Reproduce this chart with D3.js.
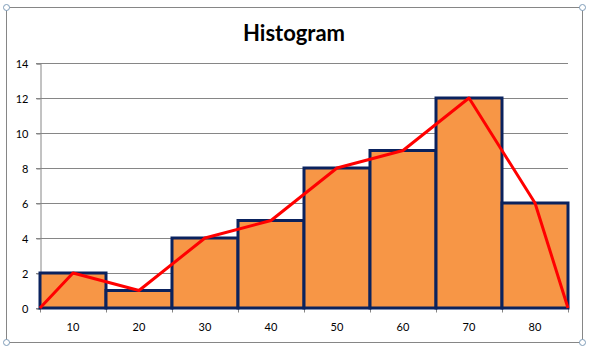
<!DOCTYPE html>
<html>
<head>
<meta charset="utf-8">
<script src="https://cdn.jsdelivr.net/npm/d3@7"></script>
<style>
  body { margin: 0; background: #fff; }
  text { font-family: Lato, "Open Sans", sans-serif; }
</style>
</head>
<body>
<div class="hist"></div>
<script>
// chart data
const bins = ["10", "20", "30", "40", "50", "60", "70", "80"]
const counts = [2, 1, 4, 5, 8, 9, 12, 6]
const yTicks = [0, 2, 4, 6, 8, 10, 12, 14]

const width = 589, height = 351
const margin = {top: 63, right: 21, bottom: 43, left: 40}

const svg = d3.select(".hist").append("svg").attr("width", width).attr("height", height)

// outer chart frame with selection handles
svg.append("rect").attr("x", 6.5).attr("y", 7.5).attr("width", 576).attr("height", 335)
   .attr("fill", "none").attr("stroke", "#868686")
const corners = [[6.5, 7.5], [582.5, 7.5], [6.5, 342.5], [582.5, 342.5]]
svg.selectAll(".handle").data(corners).enter().append("circle").attr("class", "handle")
   .attr("cx", d => d[0]).attr("cy", d => d[1]).attr("r", 3)
   .attr("fill", "#fff").attr("stroke", "#7f9db9").attr("stroke-width", 1)

// title
svg.append("text").attr("x", 294).attr("y", 41).attr("text-anchor", "middle")
   .attr("font-size", 22).attr("font-weight", "bold").attr("fill", "#000").text("Histogram")

const x = d3.scaleBand().domain(bins).range([margin.left, width - margin.right]).padding(0)
const y = d3.scaleLinear().domain([0, 14]).range([height - margin.bottom, margin.top])

// gridlines
svg.append("g").selectAll("line").data(yTicks).enter().append("line")
   .attr("x1", margin.left - 4).attr("x2", width - margin.right)
   .attr("y1", d => Math.round(y(d)) + 0.5).attr("y2", d => Math.round(y(d)) + 0.5)
   .attr("stroke", "#868686")

// y axis
const yAxis = svg.append("g").attr("transform", `translate(${margin.left + 0.5},0.5)`)
   .call(d3.axisLeft(y).tickValues(yTicks).tickSize(4).tickPadding(8))
yAxis.select(".domain").attr("stroke", "#868686")
yAxis.selectAll("line").attr("stroke", "#868686")
yAxis.selectAll("text").attr("font-size", 11).attr("fill", "#000").attr("font-family", "Lato, sans-serif")

// x axis (ticks at bin boundaries)
const xAxisG = svg.append("g").attr("transform", `translate(0,${Math.round(y(0)) + 0.5})`)
xAxisG.append("line").attr("x1", margin.left).attr("x2", width - margin.right)
   .attr("stroke", "#868686")
const edges = bins.map(b => x(b)).concat([x(bins[bins.length - 1]) + x.bandwidth()])
xAxisG.selectAll(".tk").data(edges).enter().append("line").attr("class", "tk")
   .attr("x1", d => Math.round(d) + 0.5).attr("x2", d => Math.round(d) + 0.5)
   .attr("y1", 0).attr("y2", 4).attr("stroke", "#868686")
xAxisG.selectAll(".lbl").data(bins).enter().append("text").attr("class", "lbl")
   .attr("x", d => x(d) + x.bandwidth() / 2).attr("y", 22).attr("text-anchor", "middle")
   .attr("font-size", 11).attr("fill", "#000").text(d => d)

// bars
svg.append("g").selectAll("rect").data(counts).enter().append("rect")
   .attr("x", (d, i) => x(bins[i])).attr("width", x.bandwidth())
   .attr("y", d => y(d)).attr("height", d => y(0) - y(d))
   .attr("fill", "#F79646").attr("stroke", "#0A225E").attr("stroke-width", 3)

// frequency polygon
const pts = [[x(bins[0]), 0]]
   .concat(counts.map((d, i) => [x(bins[i]) + x.bandwidth() / 2, d]))
   .concat([[edges[edges.length - 1], 0]])
const line = d3.line().x(d => d[0]).y(d => y(d[1]))
svg.append("path").attr("d", line(pts)).attr("fill", "none")
   .attr("stroke", "#FF0000").attr("stroke-width", 3).attr("stroke-linejoin", "round")
</script>
</body>
</html>
